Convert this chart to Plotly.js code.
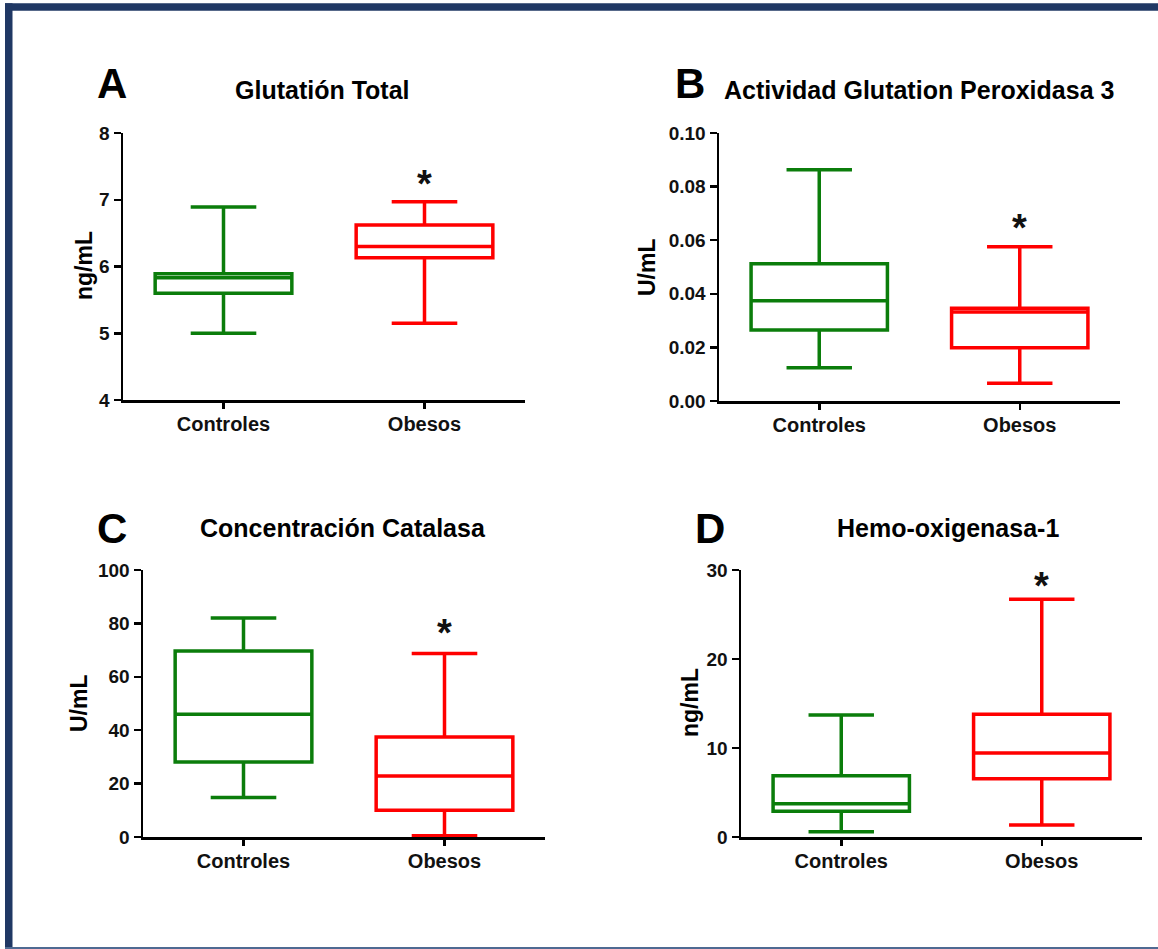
<!DOCTYPE html>
<html>
<head>
<meta charset="utf-8">
<script src="https://cdn.plot.ly/plotly-3.0.1.min.js"></script>
<style>html,body{margin:0;padding:0;background:#fff;}#chart{width:1158px;height:949px;}</style>
</head>
<body>
<div id="chart"></div>
<script>
// ---- Data ----
const groups = ['Controles', 'Obesos'];

// A: Glutatión Total (ng/mL)
const glutLow = [5.00, 5.15];
const glutQ1 = [5.60, 6.13];
const glutMed = [5.83, 6.30];
const glutQ3 = [5.89, 6.62];
const glutHigh = [6.89, 6.97];

// B: Actividad Glutation Peroxidasa 3 (U/mL)
const gpxLow = [0.0124, 0.0066];
const gpxQ1 = [0.0265, 0.0199];
const gpxMed = [0.0374, 0.0332];
const gpxQ3 = [0.0512, 0.0346];
const gpxHigh = [0.0863, 0.0576];

// C: Concentración Catalasa (U/mL)
const catLow = [14.8, 0.5];
const catQ1 = [28.1, 10.0];
const catMed = [46.0, 22.8];
const catQ3 = [69.7, 37.5];
const catHigh = [82.0, 68.7];

// D: Hemo-oxigenasa-1 (ng/mL)
const hoLow = [0.6, 1.35];
const hoQ1 = [2.88, 6.55];
const hoMed = [3.74, 9.43];
const hoQ3 = [6.88, 13.8];
const hoHigh = [13.7, 26.7];

// significance marks (*) over Obesos, value on each y scale
const sigLabels = ['*', '*', '*', '*'];
const sigY = [7.24, 0.0645, 76.5, 28.15];

const panelLetters = ['A', 'B', 'C', 'D'];
const panelTitles = ['Glutatión Total', 'Actividad Glutation Peroxidasa 3', 'Concentración Catalasa', 'Hemo-oxigenasa-1'];
const unitLabels = ['ng/mL', 'U/mL', 'U/mL', 'ng/mL'];

// ---- Layout helpers ----
const W = 1158, H = 949;
const px = x => x / W;
const py = y => 1 - y / H;
const FONT = 'Liberation Sans, Arial, Helvetica, sans-serif';
const colors = ['#0B7D0B', '#FF0000'];

const panels = [
  {low: glutLow, q1: glutQ1, med: glutMed, q3: glutQ3, high: glutHigh,
   xd: [123, 525], yd: [133, 400], range: [4, 8], dtick: 1, fmt: '',
   letter: [112, 83], title: [322, 90], unit: [84, 266]},
  {low: gpxLow, q1: gpxQ1, med: gpxMed, q3: gpxQ3, high: gpxHigh,
   xd: [719, 1120], yd: [133, 401], range: [0, 0.1], dtick: 0.02, fmt: '.2f',
   letter: [690, 83], title: [919, 90], unit: [647, 267]},
  {low: catLow, q1: catQ1, med: catMed, q3: catQ3, high: catHigh,
   xd: [143, 545], yd: [570, 837], range: [0, 100], dtick: 20, fmt: '',
   letter: [112, 528], title: [343, 528], unit: [79, 703]},
  {low: hoLow, q1: hoQ1, med: hoMed, q3: hoQ3, high: hoHigh,
   xd: [741, 1142], yd: [570, 837], range: [0, 30], dtick: 10, fmt: '',
   letter: [710, 528], title: [948, 528], unit: [690, 703]}
];

const traces = [];
const layout = {
  width: W, height: H,
  margin: {l: 0, r: 0, t: 0, b: 0},
  paper_bgcolor: '#ffffff', plot_bgcolor: 'rgba(0,0,0,0)',
  showlegend: false, boxmode: 'overlay',
  font: {family: FONT, color: '#000'},
  annotations: [],
  shapes: [
    {type: 'rect', xref: 'paper', yref: 'paper', x0: px(5), x1: px(12.5), y0: 0, y1: py(3.3), fillcolor: '#203864', line: {width: 0}},
    {type: 'rect', xref: 'paper', yref: 'paper', x0: px(5), x1: 1, y0: py(10.7), y1: py(3.3), fillcolor: '#203864', line: {width: 0}},
    {type: 'rect', xref: 'paper', yref: 'paper', x0: px(5), x1: 1, y0: 0, y1: py(947), fillcolor: '#4F6A92', line: {width: 0}}
  ]
};

panels.forEach((p, i) => {
  const n = i === 0 ? '' : String(i + 1);
  const xa = 'x' + n, ya = 'y' + n;
  groups.forEach((g, j) => {
    traces.push({
      type: 'box', xaxis: xa, yaxis: ya,
      x: [g], q1: [p.q1[j]], median: [p.med[j]], q3: [p.q3[j]],
      lowerfence: [p.low[j]], upperfence: [p.high[j]],
      boxpoints: false, width: 0.68, whiskerwidth: 0.48,
      line: {color: colors[j], width: 3.5},
      fillcolor: 'rgba(0,0,0,0)', hoverinfo: 'skip'
    });
  });
  layout['xaxis' + n] = {
    domain: [px(p.xd[0]), px(p.xd[1])], anchor: ya,
    type: 'category', range: [-0.5, 1.5], categoryorder: 'array', categoryarray: groups,
    showline: true, linecolor: '#000', linewidth: 2.5, showgrid: false, zeroline: false,
    ticks: 'outside', ticklen: 6, tickwidth: 2.5, tickcolor: '#000', ticklabelstandoff: -2,
    tickfont: {family: FONT, size: 20, weight: 'bold', color: '#111'}, fixedrange: true
  };
  layout['yaxis' + n] = {
    domain: [py(p.yd[1]), py(p.yd[0])], anchor: xa,
    range: p.range, dtick: p.dtick, tick0: 0, tickformat: p.fmt,
    showline: true, linecolor: '#000', linewidth: 2.5, showgrid: false, zeroline: false,
    ticks: 'outside', ticklen: 7, tickwidth: 2.5, tickcolor: '#000',
    tickfont: {family: FONT, size: 19, weight: 'bold', color: '#111'}, fixedrange: true
  };
  layout.annotations.push(
    {xref: 'paper', yref: 'paper', x: px(p.letter[0]), y: py(p.letter[1]), text: panelLetters[i],
     showarrow: false, xanchor: 'center', yanchor: 'middle', font: {family: FONT, size: 42, weight: 'bold', color: '#000'}},
    {xref: 'paper', yref: 'paper', x: px(p.title[0]), y: py(p.title[1]), text: panelTitles[i],
     showarrow: false, xanchor: 'center', yanchor: 'middle', font: {family: FONT, size: 25, weight: 'bold', color: '#000'}},
    {xref: 'paper', yref: 'paper', x: px(p.unit[0]), y: py(p.unit[1]), text: unitLabels[i], textangle: -90,
     showarrow: false, xanchor: 'center', yanchor: 'middle', font: {family: FONT, size: 23, weight: 'bold', color: '#000'}},
    {xref: xa, yref: ya, x: groups[1], y: sigY[i], text: sigLabels[i],
     showarrow: false, xanchor: 'center', yanchor: 'middle', font: {family: FONT, size: 38, weight: 'bold', color: '#111'}}
  );
});

Plotly.newPlot('chart', traces, layout, {staticPlot: true, displayModeBar: false});
</script>
</body>
</html>
